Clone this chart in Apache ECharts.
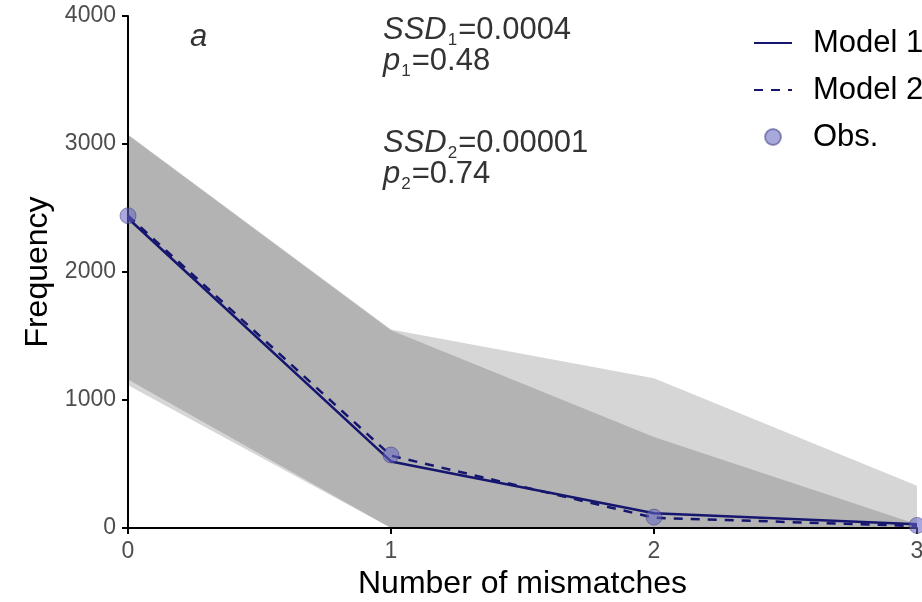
<!DOCTYPE html>
<html>
<head>
<meta charset="utf-8">
<script src="https://cdn.jsdelivr.net/npm/echarts@6/dist/echarts.min.js"></script>
<style>
  html, body { margin: 0; padding: 0; background: #fff; }
  #chart { width: 922px; height: 602px; }
</style>
</head>
<body>
<div id="chart"></div>
<script>
// data
const mismatches = ['0', '1', '2', '3']
const obs = [2440, 570, 85, 20]
const model1 = [2420, 520, 115, 30]
const model2 = [2440, 565, 80, 15]
// envelopes of the two models (lower / upper)
const band1Low = [1115, 0, 0, 0]
const band1High = [3075, 1550, 1170, 330]
const band2Low = [1160, 0, 0, 0]
const band2High = [3070, 1545, 710, 30]
const yTicks = [0, 1000, 2000, 3000, 4000]

const FONT = 'Liberation Sans, Arial, sans-serif'
const NAVY = '#16166f'
const bandFill = 'rgba(0,0,0,0.16)'

// ribbon = transparent lower line + stacked width
const ribbon = (name, low, high) => [
  {
    name: name + '_low', type: 'line', stack: name, data: low,
    symbol: 'none', lineStyle: { opacity: 0 }, silent: true
  },
  {
    name: name, type: 'line', stack: name,
    data: high.map((v, i) => v - low[i]),
    symbol: 'none', lineStyle: { opacity: 0 }, areaStyle: { color: bandFill, opacity: 1 },
    silent: true
  }
]

const chart = echarts.init(document.getElementById('chart'))

const annot = (y, main, sub, rest) => ({
  type: 'text', left: 383, top: y,
  style: {
    text: '{i|' + main + '}{s|' + sub + '}{n|' + rest + '}',
    rich: {
      i: { fontFamily: FONT, fontSize: 31, fontStyle: 'italic', fill: '#333', lineHeight: 36 },
      s: { fontFamily: FONT, fontSize: 17, fill: '#333', lineHeight: 17, verticalAlign: 'bottom', padding: [0, 1, 0, 1] },
      n: { fontFamily: FONT, fontSize: 31, fill: '#333', lineHeight: 36 }
    }
  }
})

const option = {
  animation: false,
  backgroundColor: '#fff',
  grid: { left: 128, right: 5, top: 16, bottom: 74, containLabel: false, outerBoundsMode: 'none' },
  legend: {
    data: [
      { name: 'Model 1', itemStyle: { opacity: 0 } },
      { name: 'Model 2', itemStyle: { opacity: 0 } },
      { name: 'Obs.' }
    ],
    orient: 'vertical', left: 748, top: 22,
    itemWidth: 38, itemHeight: 16, itemGap: 15,
    textStyle: { fontFamily: FONT, fontSize: 31, color: '#000', lineHeight: 32, padding: [0, 0, 0, 16] }
  },
  xAxis: {
    type: 'category', data: mismatches, boundaryGap: false,
    name: 'Number of mismatches', nameLocation: 'middle', nameGap: 40,
    nameTextStyle: { fontFamily: FONT, fontSize: 32, color: '#000' },
    axisLine: { lineStyle: { color: '#000', width: 2 } },
    axisTick: { alignWithLabel: true, length: 6, lineStyle: { color: '#000', width: 2 } },
    axisLabel: { fontFamily: FONT, fontSize: 23, color: '#4d4d4d', margin: 12 },
    splitLine: { show: false }
  },
  yAxis: {
    type: 'value', min: yTicks[0], max: yTicks[yTicks.length - 1], interval: 1000,
    name: 'Frequency', nameLocation: 'middle', nameGap: 62,
    nameTextStyle: { fontFamily: FONT, fontSize: 32, color: '#000' },
    axisLine: { show: true, lineStyle: { color: '#000', width: 2 } },
    axisTick: { show: true, length: 6, lineStyle: { color: '#000', width: 2 } },
    axisLabel: { fontFamily: FONT, fontSize: 23, color: '#4d4d4d', margin: 12, formatter: v => String(v) },
    splitLine: { show: false }
  },
  graphic: [
    {
      type: 'text', left: 190, top: 22,
      style: { text: 'a', fontFamily: FONT, fontSize: 31, fontStyle: 'italic', fill: '#333' }
    },
    annot(15, 'SSD', '1', '=0.0004'),
    annot(46, 'p', '1', '=0.48'),
    annot(128, 'SSD', '2', '=0.00001'),
    annot(159, 'p', '2', '=0.74')
  ],
  series: [
    ...ribbon('band1', band1Low, band1High),
    ...ribbon('band2', band2Low, band2High),
    {
      name: 'Model 1', type: 'line', data: model1, symbol: 'none',
      lineStyle: { color: NAVY, width: 2.5 }, itemStyle: { color: NAVY }, z: 3
    },
    {
      name: 'Model 2', type: 'line', data: model2, symbol: 'none',
      lineStyle: { color: NAVY, width: 2.5, type: [9, 8] }, itemStyle: { color: NAVY }, z: 3
    },
    {
      name: 'Obs.', type: 'scatter', data: obs, symbolSize: 16,
      itemStyle: { color: 'rgba(100,100,195,0.7)', borderColor: 'rgba(50,50,120,0.6)', borderWidth: 1 },
      z: 4
    }
  ]
}

chart.setOption(option)
</script>
</body>
</html>
